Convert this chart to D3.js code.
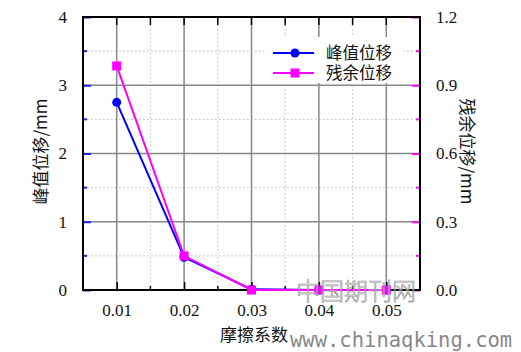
<!DOCTYPE html>
<html>
<head>
<meta charset="utf-8">
<script src="https://cdn.jsdelivr.net/npm/d3@7"></script>
<style>
  body { margin: 0; background: #fff; }
  svg text { font-family: "Liberation Serif", "Times New Roman", serif; }
</style>
</head>
<body>
<svg id="chart" width="521" height="352"></svg>
<script>
// data
const friction = [0.01, 0.02, 0.03, 0.04, 0.05];
const peakDisp = [2.75, 0.48, 0.01, 0.0, 0.0];
const residualDisp = [0.985, 0.15, 0.0, 0.0, 0.0];
const leftTicks = [0, 1, 2, 3, 4];
const rightTicks = [0, 0.3, 0.6, 0.9, 1.2];
const seriesNames = ['峰值位移', '残余位移'];

const margin = { top: 17, right: 101, bottom: 62, left: 83 };
const W = 521, H = 352;
const width = W - margin.left - margin.right;
const height = H - margin.top - margin.bottom;
const cjk = '"Noto Sans CJK SC", sans-serif';

const svg = d3.select('#chart');
const g = svg.append('g').attr('transform', `translate(${margin.left},${margin.top})`);

const x = d3.scaleLinear().domain([0.005, 0.055]).range([0, width]);
const yL = d3.scaleLinear().domain([0, 4]).range([height, 0]);
const yR = d3.scaleLinear().domain([0, 1.2]).range([height, 0]);

// grid
const minorX = d3.range(0.005, 0.0551, 0.01);
const minorY = d3.range(0.5, 4, 1);
g.selectAll('.gmx').data(minorX).enter().append('line')
  .attr('x1', d => x(d)).attr('x2', d => x(d)).attr('y1', 0).attr('y2', height)
  .attr('stroke', '#bbb').attr('stroke-dasharray', '1.5,2.5');
g.selectAll('.gmy').data(minorY).enter().append('line')
  .attr('x1', 0).attr('x2', width).attr('y1', d => yL(d)).attr('y2', d => yL(d))
  .attr('stroke', '#bbb').attr('stroke-dasharray', '1.5,2.5');
g.selectAll('.gx').data(friction).enter().append('line')
  .attr('x1', d => x(d)).attr('x2', d => x(d)).attr('y1', 0).attr('y2', height)
  .attr('stroke', '#888').attr('stroke-width', 1.5);
g.selectAll('.gy').data([1, 2, 3]).enter().append('line')
  .attr('x1', 0).attr('x2', width).attr('y1', d => yL(d)).attr('y2', d => yL(d))
  .attr('stroke', '#888').attr('stroke-width', 1.5);

// legend background (sits over the grid)
const lg = g.append('g').attr('transform', `translate(${265 - margin.left},${37 - margin.top})`);
lg.append('rect').attr('width', 138).attr('height', 46).attr('fill', '#fff');

// inner ticks
const leftAxis = d3.axisLeft(yL).tickValues(leftTicks).tickSize(-8).tickPadding(16).tickFormat(d3.format('d'));
const rightAxis = d3.axisRight(yR).tickValues(rightTicks).tickSize(-8).tickPadding(16).tickFormat(d3.format('.1f'));
const bottomAxis = d3.axisBottom(x).tickValues(friction).tickSize(-8).tickPadding(14).tickFormat(d3.format('.2f'));

const gl = g.append('g').call(leftAxis);
gl.selectAll('.tick line').attr('stroke', '#2222dd').attr('stroke-width', 2);
g.append('g').selectAll('line').data(minorY).enter().append('line')
  .attr('x1', 0).attr('x2', 4).attr('y1', d => yL(d)).attr('y2', d => yL(d))
  .attr('stroke', '#2222dd').attr('stroke-width', 2);

const gr = g.append('g').attr('transform', `translate(${width},0)`).call(rightAxis);
gr.selectAll('.tick line').attr('stroke', '#ff00ff').attr('stroke-width', 2);
g.append('g').selectAll('line').data(d3.range(0.15, 1.2, 0.3)).enter().append('line')
  .attr('x1', width - 4).attr('x2', width).attr('y1', d => yR(d)).attr('y2', d => yR(d))
  .attr('stroke', '#ff00ff').attr('stroke-width', 2);

const gb = g.append('g').attr('transform', `translate(0,${height})`).call(bottomAxis);
gb.selectAll('.tick line').attr('stroke', '#000').attr('stroke-width', 1.5);
g.append('g').selectAll('line').data(minorX).enter().append('line')
  .attr('x1', d => x(d)).attr('x2', d => x(d)).attr('y1', height - 4).attr('y2', height)
  .attr('stroke', '#000').attr('stroke-width', 1.5);
g.append('g').selectAll('line').data(friction.concat(minorX)).enter().append('line')
  .attr('x1', d => x(d)).attr('x2', d => x(d)).attr('y1', 0).attr('y2', 8)
  .attr('stroke', '#000').attr('stroke-width', 1.5);

[gl, gr, gb].forEach(a => {
  a.select('.domain').remove();
  a.selectAll('.tick text').attr('font-size', 17).attr('fill', '#111')
    .style('font-family', '"Liberation Serif", serif');
});

// frame
g.append('rect').attr('width', width).attr('height', height)
  .attr('fill', 'none').attr('stroke', '#000').attr('stroke-width', 2);

// lines
const peakPts = friction.map((f, i) => [x(f), yL(peakDisp[i])]);
const resPts = friction.map((f, i) => [x(f), yR(residualDisp[i])]);
const line = d3.line();
g.append('path').attr('d', line(peakPts)).attr('fill', 'none').attr('stroke', '#0000ff').attr('stroke-width', 2);
g.append('path').attr('d', line(resPts)).attr('fill', 'none').attr('stroke', '#ff00ff').attr('stroke-width', 2);
g.selectAll('.pc').data(peakPts).enter().append('circle')
  .attr('cx', d => d[0]).attr('cy', d => d[1]).attr('r', 4.5).attr('fill', '#0000ff');
g.selectAll('.rs').data(resPts).enter().append('rect')
  .attr('x', d => d[0] - 4.5).attr('y', d => d[1] - 4.5).attr('width', 9).attr('height', 9).attr('fill', '#ff00ff');

// legend entries
const colors = ['#0000ff', '#ff00ff'];
seriesNames.forEach((name, i) => {
  const yy = 16 + i * 20;
  const lx = lg.append('g');
  lx.append('line').attr('x1', 8).attr('x2', 49).attr('y1', yy).attr('y2', yy)
    .attr('stroke', colors[i]).attr('stroke-width', 2);
  if (i === 0) lx.append('circle').attr('cx', 30).attr('cy', yy).attr('r', 4.5).attr('fill', colors[i]);
  else lx.append('rect').attr('x', 25.5).attr('y', yy - 4.5).attr('width', 9).attr('height', 9).attr('fill', colors[i]);
  lx.append('text').attr('x', 61).attr('y', yy).attr('dy', '0.35em')
    .attr('font-size', 16.5).style('font-family', cjk).attr('fill', '#111').text(name);
});
lg.raise();

// axis titles
svg.append('text').attr('transform', `translate(41,${margin.top + height / 2 - 2}) rotate(-90)`)
  .attr('text-anchor', 'middle').attr('dy', '0.35em').attr('font-size', 17).attr('fill', '#111')
  .style('font-family', cjk).text('峰值位移/mm');
svg.append('text').attr('transform', `translate(467,${margin.top + height / 2 - 2}) rotate(90)`)
  .attr('text-anchor', 'middle').attr('dy', '0.35em').attr('font-size', 17).attr('fill', '#111')
  .style('font-family', cjk).text('残余位移/mm');
svg.append('text').attr('x', 254).attr('y', 335).attr('dy', '0.35em')
  .attr('text-anchor', 'middle').attr('font-size', 17).attr('fill', '#111')
  .style('font-family', cjk).text('摩擦系数');

// watermark
svg.append('text').attr('x', 296).attr('y', 292).attr('dy', '0.35em').attr('font-size', 24)
  .style('font-family', cjk).attr('font-weight', 300).attr('fill', 'rgba(255,255,255,0.3)')
  .attr('stroke', '#999').attr('stroke-width', 0.7).text('中国期刊网');
svg.append('text').attr('x', 290).attr('y', 347).attr('font-size', 20.5)
  .style('font-family', '"DejaVu Sans Mono", monospace').attr('fill', '#888').text('www.chinaqking.com');
</script>
</body>
</html>
